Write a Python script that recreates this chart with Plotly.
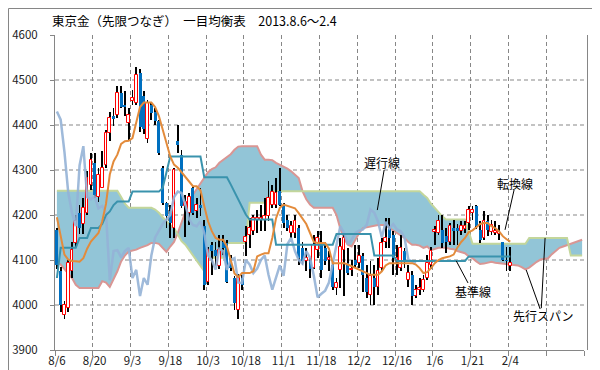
import plotly.graph_objects as go

TITLE = "東京金（先限つなぎ）　一目均衡表　2013.8.6～2.4"
TICK_LABELS = ["8/6", "8/20", "9/3", "9/18", "10/3", "10/18", "11/1", "11/18",
               "12/2", "12/16", "1/6", "1/21", "2/4"]

OPEN = [4167, 4075, 3978, 3993, 4075, 4138, 4204, 4179, 4204, 4267,
        4315, 4241, 4260, 4312, 4382, 4419, 4423, 4471, 4445, 4404,
        4453, 4449, 4516, 4464, 4370, 4445, 4430, 4408, 4304, 4227,
        4208, 4171, 4364, 4334, 4220, 4204, 4260, 4208, 4223, 4175,
        4052, 4134, 4123, 4086, 4141, 4138, 4104, 4060, 3990, 4060,
        4141, 4156, 4164, 4189, 4190, 4189, 4197, 4223, 4223, 4253,
        4223, 4189, 4160, 4160, 4171, 4127, 4097, 4097, 4082, 4123,
        4138, 4127, 4101, 4089, 4038, 4078, 4123, 4093, 4078, 4100,
        4093, 4108, 4060, 4023, 4060, 4041, 4082, 4141, 4171, 4156,
        4097, 4082, 4119, 4056, 4067, 4019, 4034, 4034, 4060, 4090,
        4162, 4160, 4167, 4153, 4141, 4171, 4171, 4164, 4170, 4182,
        4204, 4219, 4167, 4149, 4186, 4163, 4160, 4157, 4141, 4100,
        4086]
HIGH = [4172, 4085, 4010, 4100, 4140, 4200, 4222, 4237, 4297, 4337,
        4337, 4305, 4342, 4390, 4430, 4438, 4486, 4486, 4475, 4438,
        4478, 4530, 4525, 4475, 4455, 4452, 4437, 4412, 4308, 4230,
        4223, 4305, 4400, 4345, 4245, 4249, 4264, 4238, 4260, 4190,
        4130, 4141, 4141, 4156, 4156, 4145, 4112, 4064, 4070, 4067,
        4175, 4193, 4201, 4212, 4223, 4238, 4275, 4267, 4282, 4304,
        4227, 4201, 4186, 4201, 4178, 4141, 4127, 4104, 4156, 4164,
        4164, 4141, 4119, 4097, 4060, 4149, 4156, 4127, 4100, 4134,
        4134, 4115, 4090, 4097, 4090, 4104, 4149, 4193, 4193, 4164,
        4134, 4156, 4127, 4090, 4075, 4045, 4060, 4067, 4112, 4130,
        4175, 4201, 4201, 4171, 4182, 4190, 4180, 4186, 4186, 4219,
        4219, 4222, 4186, 4208, 4201, 4190, 4186, 4178, 4141, 4130,
        4130]
LOW = [4080, 3985, 3970, 3985, 4060, 4130, 4157, 4157, 4200, 4255,
       4238, 4230, 4260, 4305, 4364, 4397, 4416, 4438, 4420, 4367,
       4445, 4445, 4385, 4380, 4360, 4412, 4400, 4334, 4223, 4171,
       4149, 4149, 4338, 4215, 4152, 4178, 4201, 4193, 4197, 4034,
       4045, 4067, 4086, 4079, 4112, 4050, 4075, 3990, 3970, 4034,
       4108, 4127, 4156, 4160, 4164, 4164, 4186, 4215, 4215, 4220,
       4171, 4164, 4149, 4149, 4090, 4090, 4075, 4060, 4079, 4104,
       4060, 4090, 4075, 4034, 4023, 4038, 4019, 4067, 4065, 4082,
       4082, 4030, 4015, 4001, 4001, 4023, 4075, 4127, 4127, 4067,
       4067, 4075, 4082, 4040, 4001, 4015, 4023, 4030, 4056, 4080,
       4134, 4156, 4127, 4116, 4134, 4134, 4134, 4156, 4160, 4167,
       4190, 4170, 4138, 4145, 4153, 4156, 4156, 4145, 4097, 4075,
       4075]
CLOSE = [4088, 4001, 4000, 4093, 4123, 4186, 4171, 4215, 4282, 4323,
         4245, 4290, 4305, 4382, 4416, 4415, 4471, 4441, 4441, 4423,
         4459, 4512, 4395, 4392, 4449, 4427, 4408, 4338, 4227, 4197,
         4182, 4300, 4356, 4219, 4230, 4241, 4204, 4223, 4215, 4045,
         4123, 4119, 4108, 4123, 4127, 4052, 4082, 4005, 4060, 4045,
         4152, 4171, 4193, 4193, 4194, 4197, 4238, 4252, 4249, 4223,
         4182, 4171, 4175, 4186, 4104, 4097, 4104, 4079, 4134, 4149,
         4078, 4097, 4104, 4041, 4049, 4130, 4149, 4071, 4081, 4090,
         4108, 4067, 4030, 4064, 4041, 4075, 4138, 4149, 4149, 4104,
         4104, 4127, 4097, 4071, 4019, 4034, 4038, 4056, 4093, 4120,
         4167, 4186, 4138, 4141, 4175, 4165, 4165, 4175, 4175, 4212,
         4212, 4175, 4145, 4186, 4167, 4178, 4164, 4163, 4101, 4098,
         4093]

TENKAN = [4195, 4150, 4112, 4101, 4098, 4097, 4096, 4104, 4125, 4141,
          4150, 4160, 4186, 4225, 4290, 4319, 4334, 4358, 4364, 4365,
          4371, 4405, 4440, 4450, 4450, 4450, 4440, 4420, 4390, 4360,
          4330, 4312, 4305, 4295, 4285, 4275, 4264, 4264, 4255, 4220,
          4186, 4164, 4149, 4145, 4145, 4130, 4100, 4070, 4062, 4071,
          4071, 4071, 4075, 4108, 4112, 4115, 4115, 4149, 4193, 4216,
          4223, 4220, 4217, 4215, 4204, 4193, 4180, 4160, 4140, 4138,
          4138, 4138, 4125, 4093, 4093, 4093, 4093, 4090, 4086, 4082,
          4078, 4075, 4071, 4067, 4067, 4067, 4075, 4088, 4093, 4093,
          4093, 4093, 4093, 4093, 4093, 4090, 4082, 4071, 4073, 4082,
          4093, 4100, 4104, 4106, 4108, 4112, 4128, 4140, 4149, 4162,
          4166, 4173, 4180, 4182, 4182, 4175, 4171, 4164, 4153, 4146,
          4141]
KIJUN = [4060, 4127, 4127, 4127, 4127, 4127, 4149, 4149, 4149, 4171,
         4171, 4171, 4180, 4200, 4208, 4222, 4230, 4230, 4230, 4230,
         4252, 4252, 4252, 4252, 4252, 4252, 4252, 4252, 4260, 4295,
         4330, 4330, 4330, 4330, 4330, 4330, 4330, 4330, 4330, 4284,
         4284, 4284, 4284, 4284, 4284, 4284, 4268, 4252, 4235, 4218,
         4201, 4190, 4190, 4190, 4190, 4190, 4190, 4190, 4134, 4134,
         4134, 4134, 4134, 4134, 4134, 4134, 4134, 4134, 4134, 4134,
         4134, 4134, 4134, 4134, 4158, 4158, 4158, 4158, 4158, 4158,
         4158, 4158, 4158, 4158, 4110, 4110, 4110, 4110, 4110, 4110,
         4098, 4098, 4098, 4098, 4098, 4098, 4098, 4098, 4098, 4098,
         4098, 4098, 4098, 4098, 4098, 4098, 4098, 4098, 4098, 4108,
         4108, 4108, 4108, 4108, 4108, 4108, 4108, 4108, 4108, 4108,
         4108]
CHIKOU = [4430, 4412, 4340, 4250, 4205, 4175, 4310, 4353, 4240, 4235,
          4241, 4215, 4220, 4205, 4055, 4120, 4122, 4106, 4120, 4127,
          4060, 4078, 4020, 4060, 4045, 4110, 4150, 4165, 4180, 4190,
          4200, 4240, 4252, 4249, 4223, 4190, 4178, 4175, 4186, 4160,
          4110, 4100, 4079, 4125, 4120, 4078, 4100, 4104, 4050, 4049,
          4100, 4090, 4071, 4081, 4100, 4110, 4067, 4034, 4062, 4088,
          4065, 4135, 4149, 4120, 4100, 4092, 4120, 4105, 4065, 4017,
          4025, 4032, 4050, 4090, 4135, 4175, 4160, 4135, 4145, 4160,
          4165, 4168, 4178, 4212, 4205, 4185, 4150, 4185, 4170, 4180,
          4168, 4164, 4150, 4101, 4097, 4093]
SENKOU_A = [4254, 4254, 4254, 4254, 4254, 4254, 4254, 4254, 4254, 4254,
            4254, 4254, 4254, 4254, 4254, 4254, 4254, 4240, 4225, 4216,
            4216, 4216, 4216, 4216, 4216, 4216, 4212, 4205, 4195, 4186,
            4178, 4171, 4155, 4142, 4134, 4122, 4112, 4100, 4088, 4075,
            4105, 4105, 4105, 4105, 4105, 4138, 4138, 4138, 4138, 4138,
            4138, 4227, 4227, 4227, 4227, 4227, 4227, 4253, 4253, 4253,
            4253, 4253, 4253, 4253, 4253, 4253, 4253, 4253, 4253, 4253,
            4253, 4253, 4253, 4253, 4253, 4253, 4253, 4253, 4253, 4253,
            4253, 4253, 4253, 4253, 4253, 4253, 4253, 4253, 4253, 4253,
            4253, 4253, 4253, 4253, 4253, 4253, 4253, 4245, 4238, 4225,
            4215, 4205, 4197, 4190, 4190, 4190, 4190, 4190, 4190, 4163,
            4136, 4136, 4136, 4136, 4136, 4136, 4136, 4136, 4136, 4136,
            4136, 4136, 4136, 4136, 4136, 4149, 4149, 4149, 4149, 4149,
            4149, 4149, 4149, 4149, 4149, 4149, 4110, 4110, 4110, 4110]
SENKOU_B = [4095, 4090, 4080, 4070, 4060, 4045, 4038, 4038, 4038, 4038,
            4038, 4038, 4053, 4050, 4040, 4058, 4075, 4097, 4110, 4119,
            4121, 4123, 4127, 4130, 4133, 4138, 4138, 4136, 4127, 4118,
            4130, 4140, 4160, 4185, 4210, 4230, 4245, 4258, 4270, 4282,
            4295, 4302, 4306, 4316, 4322, 4327, 4335, 4345, 4352, 4353,
            4353, 4353, 4353, 4353, 4334, 4323, 4323, 4322, 4316, 4312,
            4308, 4303, 4297, 4290, 4282, 4253, 4235, 4223, 4216, 4216,
            4216, 4216, 4216, 4216, 4200, 4170, 4149, 4134, 4130, 4145,
            4160, 4171, 4173, 4175, 4176, 4178, 4178, 4178, 4171, 4165,
            4160, 4155, 4149, 4140, 4134, 4134, 4132, 4127, 4130, 4122,
            4125, 4127, 4127, 4127, 4125, 4124, 4120, 4118, 4115, 4108,
            4104, 4097, 4091, 4092, 4094, 4096, 4094, 4093, 4093, 4092,
            4091, 4089, 4088, 4084, 4079, 4083, 4090, 4096, 4101, 4103,
            4104, 4113, 4120, 4127, 4130, 4133, 4136, 4138, 4142, 4145]

GRID_Y = [4000, 4100, 4200, 4300, 4400, 4500]
Y_TICKS = [3900, 4000, 4100, 4200, 4300, 4400, 4500, 4600]

# label texts (index, price) and pointer lines (index/price pairs)
LABELS = [("遅行線", 86.1, 4316), ("転換線", 121.3, 4269),
          ("基準線", 110.2, 4031), ("先行スパン", 128.7, 3976)]
POINTERS = [(86.6, 4300, 84.8, 4211), (121.0, 4256, 118.6, 4167),
            (108.8, 4049, 105.7, 4098), (127.9, 3991, 124.2, 4078),
            (128.2, 3993, 129.2, 4149)]

W, H = 600, 370
ML, MR, MT, MB = 47, 24, 27, 28
PW, PH = W - ML - MR, H - MT - MB
GRID = "#878787"
FONT = "Noto Sans CJK JP"

n = len(CLOSE)
idx = list(range(n))
up = [i for i in idx if CLOSE[i] >= OPEN[i]]
dn = [i for i in idx if CLOSE[i] < OPEN[i]]
ns = len(SENKOU_A)
sx = list(range(ns))

fig = go.Figure()
# cloud (main axes, drawn underneath)
fig.add_trace(go.Scatter(x=sx, y=SENKOU_B, mode="lines",
                         line=dict(color="#D99694", width=2), hoverinfo="skip"))
fig.add_trace(go.Scatter(x=sx, y=SENKOU_A, mode="lines",
                         line=dict(color="#C3D69B", width=2),
                         fill="tonexty", fillcolor="#92C5D7", hoverinfo="skip"))
# candles (overlay axes)
fig.add_trace(go.Bar(x=idx, base=LOW, y=[HIGH[i] - LOW[i] for i in idx],
                     width=0.22, marker=dict(color="black", line=dict(width=0)),
                     xaxis="x2", yaxis="y2"))
fig.add_trace(go.Bar(x=up, base=[OPEN[i] for i in up],
                     y=[CLOSE[i] - OPEN[i] for i in up], width=0.72,
                     marker=dict(color="white", line=dict(color="#FF0000", width=1)),
                     xaxis="x2", yaxis="y2"))
fig.add_trace(go.Bar(x=dn, base=[CLOSE[i] for i in dn],
                     y=[OPEN[i] - CLOSE[i] for i in dn], width=0.8,
                     marker=dict(color="#0070C0", line=dict(width=0)),
                     xaxis="x2", yaxis="y2"))
# indicator lines
fig.add_trace(go.Scatter(x=list(range(len(CHIKOU))), y=CHIKOU, mode="lines",
                         line=dict(color="#95B3D7", width=2.5), opacity=0.9,
                         xaxis="x2", yaxis="y2"))
fig.add_trace(go.Scatter(x=idx, y=KIJUN, mode="lines",
                         line=dict(color="#3A93AD", width=2),
                         xaxis="x2", yaxis="y2"))
fig.add_trace(go.Scatter(x=idx, y=TENKAN, mode="lines",
                         line=dict(color="#E38B3B", width=2),
                         xaxis="x2", yaxis="y2"))

for v in GRID_Y:
    fig.add_shape(type="line", xref="x domain", x0=0, x1=1, yref="y", y0=v, y1=v,
                  line=dict(color=GRID, width=1, dash="4px,3px"), layer="below")

for x0, y0, x1, y1 in POINTERS:
    fig.add_shape(type="line", xref="x", yref="y", x0=x0, y0=y0, x1=x1, y1=y1,
                  line=dict(color="black", width=1), layer="above")

for text, x, y in LABELS:
    fig.add_annotation(x=x, y=y, xref="x", yref="y", text=text, showarrow=False,
                       font=dict(family=FONT, size=12, color="black"),
                       xanchor="center", yanchor="middle")

fig.add_annotation(xref="paper", yref="paper", x=(42 - ML) / PW,
                   y=(H - MB - 13) / PH, text=TITLE, showarrow=False,
                   xanchor="left", yanchor="middle",
                   font=dict(family=FONT, size=12.5, color="black"))

# outer chart border and right plot border
fig.add_shape(type="rect", xref="paper", yref="paper",
              x0=(0.5 - ML) / PW, x1=(W - 0.5 - ML) / PW,
              y0=(H - MB - (H - 0.5)) / PH, y1=(H - MB - 0.5) / PH,
              line=dict(color="#868686", width=1), layer="above")
fig.add_shape(type="line", xref="paper", yref="paper",
              x0=(PW + 3.5) / PW, x1=(PW + 3.5) / PW, y0=0, y1=1,
              line=dict(color="#868686", width=1), layer="above")

fig.update_layout(
    width=W, height=H,
    margin=dict(l=ML, r=MR, t=MT, b=MB, autoexpand=False),
    paper_bgcolor="white", plot_bgcolor="white",
    showlegend=False, barmode="overlay", bargap=0,
    font=dict(family=FONT, size=11, color="#222222"),
    xaxis=dict(range=[-0.5, ns - 0.5], automargin=False,
               tickvals=[10 * k for k in range(len(TICK_LABELS))],
               ticktext=TICK_LABELS, ticks="", showgrid=False,
               showline=True, linecolor="#868686", zeroline=False,
               tickfont=dict(size=11.5),
               minor=dict(tickmode="linear", tick0=-0.5, dtick=10,
                          ticks="outside", ticklen=5, tickcolor="#868686",
                          showgrid=True, gridcolor=GRID, griddash="4px,3px",
                          gridwidth=1)),
    yaxis=dict(range=[3900, 4600], tickvals=Y_TICKS, ticks="outside", ticklen=4,
               automargin=False,
               tickcolor="#868686", showgrid=False, showline=True,
               linecolor="#868686", zeroline=False, tickfont=dict(size=11.5),
               ticklabelstandoff=10),
    xaxis2=dict(overlaying="x", anchor="y2", range=[-0.5, ns - 0.5], visible=False),
    yaxis2=dict(overlaying="y", anchor="x2", range=[3900, 4600], visible=False),
)

fig.write_html("out.html")
